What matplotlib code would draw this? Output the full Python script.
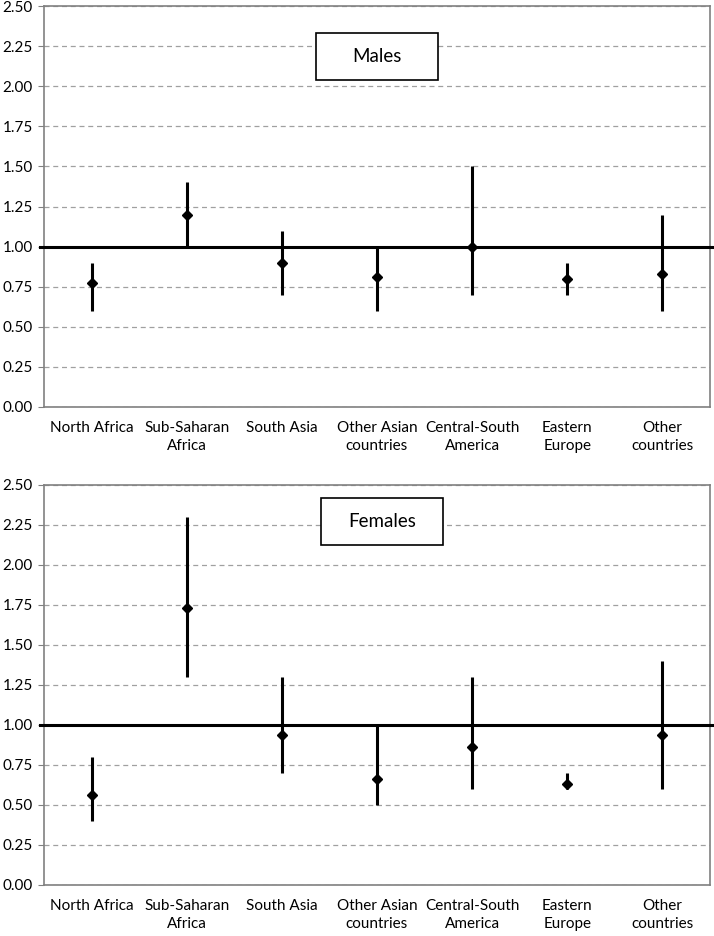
import matplotlib.pyplot as plt
import numpy as np

plt.rcParams['font.family'] = ['Lato', 'DejaVu Sans']

regions = ['North Africa', 'Sub-Saharan\nAfrica', 'South Asia', 'Other Asian\ncountries',
           'Central-South\nAmerica', 'Eastern\nEurope', 'Other\ncountries']

males_est = [0.77, 1.20, 0.90, 0.81, 1.00, 0.80, 0.83]
males_low = [0.60, 1.00, 0.70, 0.60, 0.70, 0.70, 0.60]
males_high = [0.90, 1.40, 1.10, 1.00, 1.50, 0.90, 1.20]

females_est = [0.56, 1.73, 0.94, 0.66, 0.86, 0.63, 0.94]
females_low = [0.40, 1.30, 0.70, 0.50, 0.60, 0.60, 0.60]
females_high = [0.80, 2.30, 1.30, 1.00, 1.30, 0.70, 1.40]

yticks = [0.0, 0.25, 0.5, 0.75, 1.0, 1.25, 1.5, 1.75, 2.0, 2.25, 2.5]

W, H = 714, 936
fig = plt.figure(figsize=(W / 100, H / 100), dpi=100)

panels = [
    ('Males', males_est, males_low, males_high, 6, 407, (316, 33, 438, 80)),
    ('Females', females_est, females_low, females_high, 485, 885, (321, 498, 443, 545)),
]

x = np.arange(len(regions))
for title, est, low, high, top_px, bot_px, box in panels:
    left_px, right_px = 44, 710
    ax = fig.add_axes([left_px / W, 1 - bot_px / H, (right_px - left_px) / W, (bot_px - top_px) / H])
    ax.set_xlim(-0.5, len(regions) - 0.5)
    ax.set_ylim(0, 2.5)
    ax.set_yticks(yticks)
    ax.set_yticklabels(['%.2f' % v for v in yticks], fontsize=11)
    ax.set_xticks(x)
    ax.set_xticklabels(regions, fontsize=11, linespacing=1.35)
    ax.tick_params(axis='x', length=0, pad=10)
    ax.tick_params(axis='y', length=4, color='#808080', direction='out', pad=4)
    for s in ax.spines.values():
        s.set_color('#808080')
        s.set_linewidth(1.2)
    ax.yaxis.grid(True, linestyle=(0, (4, 3)), color='#a0a0a0', linewidth=0.9)
    ax.set_axisbelow(True)

    # reference line at 1.0, extending past the frame
    ax.axhline(1.0, xmin=-0.006, xmax=1.006, color='black', linewidth=2.2, clip_on=False, zorder=3)

    est = np.array(est)
    yerr = [est - np.array(low), np.array(high) - est]
    ax.errorbar(x, est, yerr=yerr, fmt='D', color='black', markersize=5,
                elinewidth=2.2, capsize=0, zorder=4)

    bx0, by0, bx1, by1 = box
    fig.patches.append(plt.Rectangle((bx0 / W, 1 - by1 / H), (bx1 - bx0) / W, (by1 - by0) / H,
                                     transform=fig.transFigure, fill=True, facecolor='white',
                                     edgecolor='black', linewidth=1.2, zorder=5))
    fig.text((bx0 + bx1) / 2 / W, 1 - (by0 + by1) / 2 / H, title, fontsize=13.5,
             ha='center', va='center', zorder=6)

fig.savefig('out.png', dpi=100)
